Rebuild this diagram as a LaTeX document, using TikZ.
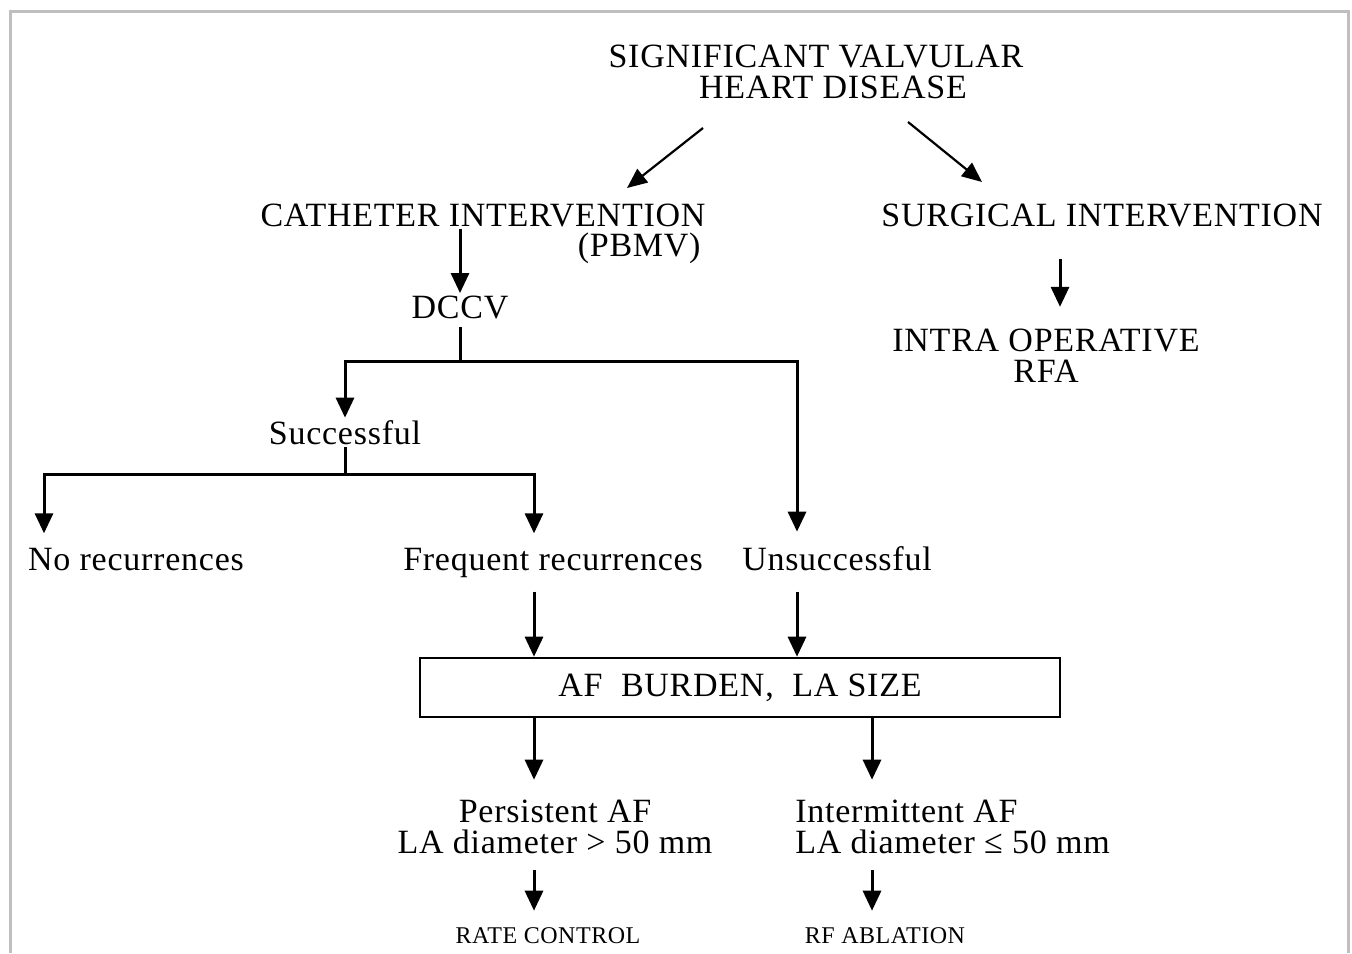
\documentclass[tikz,border=0pt]{standalone}
\usepackage{fontspec}
\setmainfont{Liberation Serif}[LetterSpace=2.2]
\usetikzlibrary{arrows.meta}
\tikzset{
    lbl/.style={inner sep=1pt,font=\fontsize{17}{15.5}\selectfont},
    smalllbl/.style={inner sep=1pt,font=\fontsize{12}{14}\selectfont},
    burdenbox/.style={draw,line width=1.3pt,minimum width=320pt,minimum height=29.5pt,inner sep=0pt,font=\fontsize{17}{15.5}\selectfont},
    link/.style={line width=1.5pt},
    arr/.style={link,-{Triangle[width=9pt,length=10pt]}},
    slantarr/.style={line width=1.1pt,-{Triangle[width=8.5pt,length=10pt]}},
    frame/.style={line width=1.5pt,color=black!25}
}
\begin{document}
\begin{tikzpicture}[x=0.5pt,y=-0.5pt]
            \useasboundingbox (0,0) rectangle (1352,953);
            \draw[frame] (10,953) -- (10,11) -- (1348,11) -- (1348,953);
            % labels
            \node[lbl,align=center] (svhd) at (816,71.5) {SIGNIFICANT VALVULAR\\\hspace*{17pt}HEART DISEASE};
            \node[lbl,anchor=base] (cath) at (483,226) {CATHETER INTERVENTION};
            \node[lbl,anchor=base east] (pbmv) at (703,256) {(PBMV)};
            \node[lbl,anchor=base] (surg) at (1102,226) {SURGICAL INTERVENTION};
            \node[lbl,anchor=base] (dccv) at (460,318) {DCCV};
            \node[lbl,align=center] (iorfa) at (1046,356) {INTRA OPERATIVE\\RFA};
            \node[lbl,anchor=base] (succ) at (345,444) {Successful};
            \node[lbl,anchor=base] (norec) at (136,570) {No recurrences};
            \node[lbl,anchor=base] (freq) at (553,570) {Frequent recurrences};
            \node[lbl,anchor=base] (unsucc) at (837,570) {Unsuccessful};
            \node[burdenbox] (burden) at (740,687.5) {AF~~BURDEN,~~LA SIZE};
            \node[lbl,align=center] (pers) at (555,827) {Persistent AF\\LA diameter > 50 mm};
            \node[lbl,align=left,anchor=west] (inter) at (793,827) {Intermittent AF\\LA diameter ≤ 50 mm};
            \node[smalllbl,anchor=base] (rate) at (548,943) {RATE CONTROL};
            \node[smalllbl,anchor=base] (rfabl) at (885,943) {RF ABLATION};
            % columns and forks
            \coordinate (svhdL) at (703,128);
            \coordinate (cathT) at (627,188);
            \coordinate (svhdR) at (908,122);
            \coordinate (surgT) at (982,182);
            \coordinate (colN) at (44,0);
            \coordinate (colA) at (534,0);
            \coordinate (colB) at (797,0);
            \coordinate (colC) at (872,0);
            \coordinate (colS) at (1060,0);
            \coordinate (fork1) at (dccv.south |- 0,361);
            \coordinate (fork2) at (succ.south |- 0,474);
            % connectors
            \draw[slantarr] (svhdL) -- (cathT);
            \draw[slantarr] (svhdR) -- (surgT);
            \draw[arr] (cath.south -| dccv) -- (dccv.north);
            \draw[arr,shorten <=15pt,shorten >=10pt] (colS |- surg.south) -- (colS |- iorfa.north);
            \draw[link,shorten <=3pt] (dccv.south) -- (fork1);
            \draw[arr] (fork1) -| (succ.north);
            \draw[arr,shorten >=6pt] (fork1) -| (colB |- unsucc.north);
            \draw[link] (succ.south) -- (fork2);
            \draw[arr,shorten >=6pt] (fork2) -| (colN |- norec.north);
            \draw[arr,shorten >=6pt] (fork2) -| (colA |- freq.north);
            \draw[arr,shorten <=6pt] (colA |- freq.south) -- (colA |- burden.north);
            \draw[arr,shorten <=6pt] (colB |- freq.south) -- (colB |- burden.north);
            \draw[arr,shorten >=9pt] (colA |- burden.south) -- (colA |- pers.north);
            \draw[arr,shorten >=9pt] (colC |- burden.south) -- (colC |- inter.north);
            \draw[arr,shorten <=7pt,shorten >=7pt] (colA |- pers.south) -- (colA |- rate.north);
            \draw[arr,shorten <=7pt,shorten >=7pt] (colC |- inter.south) -- (colC |- rfabl.north);
\end{tikzpicture}
\end{document}
